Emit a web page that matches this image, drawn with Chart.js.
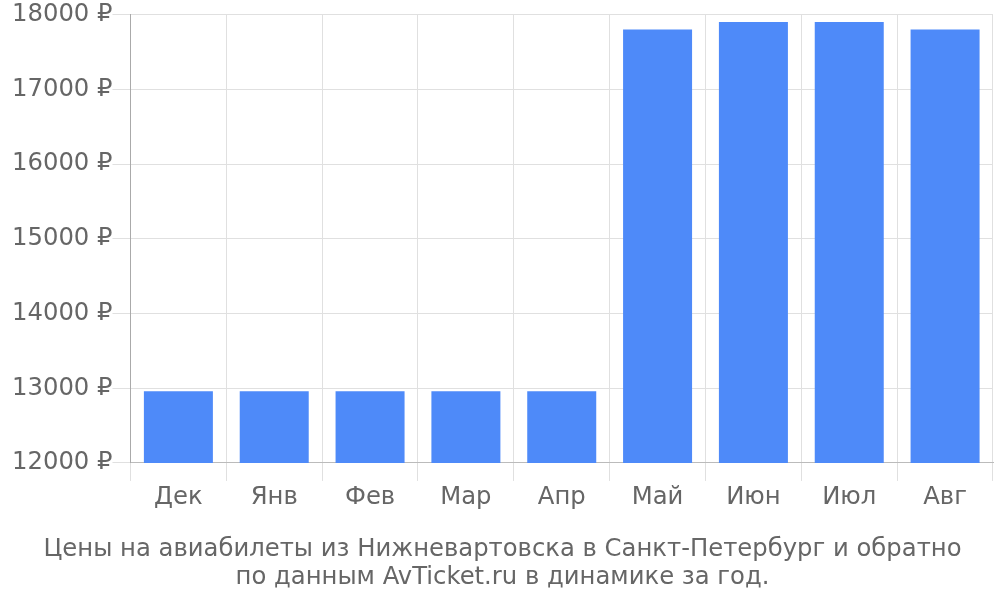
<!DOCTYPE html>
<html>
<head>
<meta charset="utf-8">
<script src="https://cdn.jsdelivr.net/npm/chart.js@4.4.1/dist/chart.umd.min.js"></script>
<style>
  html, body { margin: 0; padding: 0; background: #fff; }
  #wrap { width: 1000px; height: 600px; }
</style>
</head>
<body>
<div id="wrap"><canvas id="priceChart"></canvas></div>
<script>
// месяцы и цены
var months = ["Дек", "Янв", "Фев", "Мар", "Апр", "Май", "Июн", "Июл", "Авг"];
var prices = [12960, 12960, 12960, 12960, 12960, 17800, 17900, 17900, 17800];
var titleLines = [
    "Цены на авиабилеты из Нижневартовска в Санкт-Петербург и обратно",
    "по данным AvTicket.ru в динамике за год."
];

Chart.defaults.font.family = "'DejaVu Sans', sans-serif";
Chart.defaults.color = "#666";

var ctx = document.getElementById("priceChart").getContext("2d");
new Chart(ctx, {
    type: "bar",
    data: {
        labels: months,
        datasets: [{
            data: prices,
            backgroundColor: "#4e8af9",
            borderWidth: 0,
            barPercentage: 0.72,
            categoryPercentage: 1.0
        }]
    },
    options: {
        responsive: true,
        maintainAspectRatio: false,
        animation: false,
        layout: { padding: { top: 3, right: 7, left: 12, bottom: 8 } },
        plugins: {
            legend: { display: false },
            tooltip: { enabled: false },
            title: {
                display: true,
                position: "bottom",
                text: titleLines,
                color: "#666",
                font: { size: 24.3, weight: "normal", lineHeight: 1.15 },
                padding: { top: 22, bottom: 0 }
            }
        },
        scales: {
            x: {
                grid: { color: "#e0e0e0", tickLength: 18 },
                border: { color: "#bbb" },
                ticks: { font: { size: 24.3 }, color: "#666", padding: 2 }
            },
            y: {
                min: 12000,
                max: 18000,
                grid: { color: "#e0e0e0", tickLength: 18 },
                border: { color: "#aaa" },
                ticks: {
                    stepSize: 1000,
                    font: { size: 24.3 },
                    color: "#666",
                    padding: 0,
                    callback: function(v) { return v + " ₽"; }
                }
            }
        }
    }
});
</script>
</body>
</html>
